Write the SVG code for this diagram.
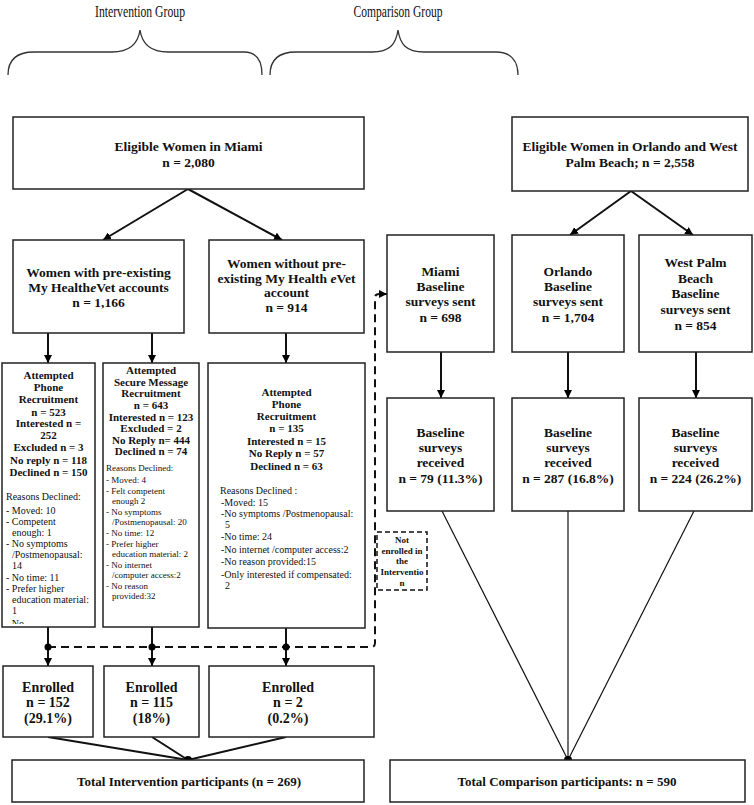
<svg xmlns="http://www.w3.org/2000/svg" width="754" height="805" viewBox="0 0 754 805">
<style>
.box{fill:#fff;stroke:#222;stroke-width:1.5}
.t{font-family:"Liberation Serif","Times New Roman",serif;font-weight:bold;text-anchor:middle;fill:#111}
.f13{font-size:13.5px}
.f11{font-size:11px}
.r{font-family:"Liberation Serif","Times New Roman",serif;font-size:10px;fill:#111}
.s{font-size:9px}
.h{font-family:"Liberation Serif","Times New Roman",serif;font-size:17px;fill:#111;text-anchor:middle}
.ln{stroke:#111;stroke-width:2;fill:none}
.thin{stroke:#111;stroke-width:1.2;fill:none}
.dash{stroke:#111;stroke-width:2;fill:none;stroke-dasharray:8 5}
.brace{stroke:#333;stroke-width:1.3;fill:none}
.dot{fill:#000}
</style>
<defs>
<marker id="ah" viewBox="0 0 10 10" refX="10" refY="5" markerWidth="8" markerHeight="8" markerUnits="userSpaceOnUse" orient="auto"><path d="M0,0 L10,5 L0,10 z" fill="#000"/></marker>
<clipPath id="c1"><rect x="2" y="363" width="93" height="261"/></clipPath>
<clipPath id="c2"><rect x="103" y="363" width="95" height="264"/></clipPath>
</defs>

<g id="titles">
<text class="h" x="140" y="17" textLength="90" lengthAdjust="spacingAndGlyphs">Intervention Group</text>
<text class="h" x="398" y="17" textLength="89" lengthAdjust="spacingAndGlyphs">Comparison Group</text>
<path class="brace" d="M8,75 C8,60 16,52 34,52 L112,52 C130,52 138,44 140,30 C142,44 150,52 168,52 L244,52 C256,52 262,60 262,75"/>
<path class="brace" d="M270,75 C270,60 278,52 296,52 L372,52 C390,52 396,44 398,30 C400,44 406,52 424,52 L496,52 C510,52 518,60 518,75"/>
</g>

<g id="connectors">
<line class="ln" x1="188" y1="189" x2="103" y2="240" marker-end="url(#ah)"/>
<line class="ln" x1="188" y1="189" x2="282" y2="240" marker-end="url(#ah)"/>
<line class="ln" x1="48" y1="333" x2="48" y2="363" marker-end="url(#ah)"/>
<line class="ln" x1="152" y1="333" x2="152" y2="363" marker-end="url(#ah)"/>
<line class="ln" x1="286" y1="333" x2="286" y2="363" marker-end="url(#ah)"/>
<line class="ln" x1="48" y1="627" x2="48" y2="666" marker-end="url(#ah)"/>
<line class="ln" x1="152" y1="627" x2="152" y2="666" marker-end="url(#ah)"/>
<line class="ln" x1="286" y1="628" x2="286" y2="666" marker-end="url(#ah)"/>
<path class="dash" d="M48,647 H371 Q375,647 375,643 V298 Q375,294 379,294 H383"/>
<line class="ln" x1="380" y1="294" x2="387" y2="294" marker-end="url(#ah)"/>
<circle class="dot" cx="48" cy="647" r="3.5"/>
<circle class="dot" cx="152" cy="647" r="3.5"/>
<circle class="dot" cx="286" cy="647" r="3.5"/>
<line class="ln" x1="48" y1="737" x2="188" y2="760"/>
<line class="ln" x1="152" y1="737" x2="188" y2="760"/>
<line class="ln" x1="286" y1="737" x2="188" y2="760"/>
<circle class="dot" cx="188" cy="760" r="4"/>
<line class="ln" x1="631" y1="191" x2="570" y2="235" marker-end="url(#ah)"/>
<line class="ln" x1="631" y1="191" x2="693" y2="235" marker-end="url(#ah)"/>
<line class="ln" x1="441" y1="352" x2="441" y2="398" marker-end="url(#ah)"/>
<line class="ln" x1="568" y1="352" x2="568" y2="398" marker-end="url(#ah)"/>
<line class="ln" x1="696" y1="352" x2="696" y2="398" marker-end="url(#ah)"/>
<line class="thin" x1="442" y1="511" x2="568" y2="760"/>
<line class="thin" x1="568" y1="511" x2="568" y2="760"/>
<line class="thin" x1="694" y1="511" x2="568" y2="760"/>
<circle class="dot" cx="568" cy="760" r="4"/>
</g>

<g id="eligible-miami">
<rect class="box" x="13" y="117" width="351" height="72"/>
<text class="t f13" x="188.5" y="151">Eligible Women in Miami</text>
<text class="t f13" x="188.5" y="167">n = 2,080</text>
</g>

<g id="with-accounts">
<rect class="box" x="13" y="240" width="171" height="93"/>
<text class="t f13" x="98.5" y="277">Women with pre-existing</text>
<text class="t f13" x="98.5" y="292">My Health<tspan font-style="italic">e</tspan>Vet accounts</text>
<text class="t f13" x="98.5" y="307">n = 1,166</text>
</g>

<g id="without-accounts">
<rect class="box" x="209" y="240" width="155" height="93"/>
<text class="t f13" x="286.5" y="268">Women without pre-</text>
<text class="t f13" x="286.5" y="283">existing My Health <tspan font-style="italic">e</tspan>Vet</text>
<text class="t f13" x="286.5" y="297">account</text>
<text class="t f13" x="286.5" y="312">n = 914</text>
</g>

<g id="phone-recruitment">
<rect class="box" x="2" y="363" width="93" height="264"/>
<text class="t f11" x="48.5" y="379">Attempted</text>
<text class="t f11" x="48.5" y="391">Phone</text>
<text class="t f11" x="48.5" y="403">Recruitment</text>
<text class="t f11" x="48.5" y="416">n = 523</text>
<text class="t f11" x="48.5" y="427">Interested n =</text>
<text class="t f11" x="48.5" y="439">252</text>
<text class="t f11" x="48.5" y="451">Excluded n = 3</text>
<text class="t f11" x="48.5" y="464">No reply n = 118</text>
<text class="t f11" x="48.5" y="476">Declined n = 150</text>
<g clip-path="url(#c1)">
<text class="r" x="6" y="500">Reasons Declined:</text>
<text class="r" x="6" y="514">- Moved: 10</text>
<text class="r" x="6" y="525">- Competent</text>
<text class="r" x="12" y="536">enough: 1</text>
<text class="r" x="6" y="547">- No symptoms</text>
<text class="r" x="12" y="558">/Postmenopausal:</text>
<text class="r" x="12" y="569">14</text>
<text class="r" x="6" y="581">- No time: 11</text>
<text class="r" x="6" y="592">- Prefer higher</text>
<text class="r" x="12" y="603">education material:</text>
<text class="r" x="12" y="614">1</text>
<text class="r" x="6" y="627">- No</text>
</g>
</g>

<g id="secure-message">
<rect class="box" x="103" y="363" width="96" height="264"/>
<text class="t f11" x="151" y="374">Attempted</text>
<text class="t f11" x="151" y="386">Secure Message</text>
<text class="t f11" x="151" y="397">Recruitment</text>
<text class="t f11" x="151" y="409">n = 643</text>
<text class="t f11" x="151" y="421">Interested n = 123</text>
<text class="t f11" x="151" y="432">Excluded = 2</text>
<text class="t f11" x="151" y="444">No Reply n= 444</text>
<text class="t f11" x="151" y="455">Declined n = 74</text>
<g clip-path="url(#c2)">
<text class="r s" x="106" y="471">Reasons Declined:</text>
<text class="r s" x="106" y="483">- Moved: 4</text>
<text class="r s" x="106" y="494">- Felt competent</text>
<text class="r s" x="112" y="504">enough 2</text>
<text class="r s" x="106" y="515">- No symptoms</text>
<text class="r s" x="112" y="525">/Postmenopausal: 20</text>
<text class="r s" x="106" y="536">- No time: 12</text>
<text class="r s" x="106" y="547">- Prefer higher</text>
<text class="r s" x="112" y="557">education material: 2</text>
<text class="r s" x="106" y="568">- No internet</text>
<text class="r s" x="112" y="578">/computer access:2</text>
<text class="r s" x="106" y="589">- No reason</text>
<text class="r s" x="112" y="599">provided:32</text>
</g>
</g>

<g id="phone-recruitment-2">
<rect class="box" x="208" y="363" width="157" height="265"/>
<text class="t f11" x="286.5" y="396">Attempted</text>
<text class="t f11" x="286.5" y="408">Phone</text>
<text class="t f11" x="286.5" y="420">Recruitment</text>
<text class="t f11" x="286.5" y="432">n = 135</text>
<text class="t f11" x="286.5" y="445">Interested n = 15</text>
<text class="t f11" x="286.5" y="457">No Reply n = 57</text>
<text class="t f11" x="286.5" y="470">Declined n = 63</text>
<text class="r" x="220" y="494">Reasons Declined :</text>
<text class="r" x="221" y="506">-Moved: 15</text>
<text class="r" x="221" y="517">-No symptoms /Postmenopausal:</text>
<text class="r" x="225" y="528">5</text>
<text class="r" x="221" y="540">-No time: 24</text>
<text class="r" x="221" y="553">-No internet /computer access:2</text>
<text class="r" x="221" y="565">-No reason provided:15</text>
<text class="r" x="221" y="578">-Only interested if compensated:</text>
<text class="r" x="225" y="589">2</text>
</g>

<g id="not-enrolled">
<rect x="377" y="532" width="50" height="58" fill="#fff" stroke="#111" stroke-width="1.5" stroke-dasharray="5 3"/>
<text class="t" font-size="9" x="402" y="543">Not</text>
<text class="t" font-size="9" x="402" y="554">enrolled in</text>
<text class="t" font-size="9" x="402" y="564">the</text>
<text class="t" font-size="9" x="402" y="575">Interventio</text>
<text class="t" font-size="9" x="402" y="586">n</text>
</g>

<g id="enrolled-1">
<rect class="box" x="3" y="666" width="90" height="71"/>
<text class="t" font-size="14" x="48" y="692">Enrolled</text>
<text class="t" font-size="14" x="48" y="707">n = 152</text>
<text class="t" font-size="14" x="48" y="723">(29.1%)</text>
</g>
<g id="enrolled-2">
<rect class="box" x="104" y="666" width="95" height="71"/>
<text class="t" font-size="14" x="151.5" y="692">Enrolled</text>
<text class="t" font-size="14" x="151.5" y="707">n = 115</text>
<text class="t" font-size="14" x="151.5" y="723">(18%)</text>
</g>
<g id="enrolled-3">
<rect class="box" x="209" y="666" width="165" height="71"/>
<text class="t" font-size="14" x="288" y="692">Enrolled</text>
<text class="t" font-size="14" x="288" y="707">n = 2</text>
<text class="t" font-size="14" x="288" y="723">(0.2%)</text>
</g>

<g id="total-intervention">
<rect class="box" x="12" y="760" width="352" height="42"/>
<text class="t" font-size="13" x="189" y="786">Total Intervention participants (n = 269)</text>
</g>

<g id="eligible-orlando-wpb">
<rect class="box" x="512" y="117" width="236" height="74"/>
<text class="t f13" x="630" y="151">Eligible Women in Orlando and West</text>
<text class="t f13" x="630" y="167">Palm Beach; n = 2,558</text>
</g>

<g id="miami-sent">
<rect class="box" x="387" y="235" width="107" height="117"/>
<text class="t f13" x="440.5" y="276">Miami</text>
<text class="t f13" x="440.5" y="291">Baseline</text>
<text class="t f13" x="440.5" y="306">surveys sent</text>
<text class="t f13" x="440.5" y="322">n = 698</text>
</g>
<g id="orlando-sent">
<rect class="box" x="512" y="235" width="112" height="117"/>
<text class="t f13" x="568" y="276">Orlando</text>
<text class="t f13" x="568" y="291">Baseline</text>
<text class="t f13" x="568" y="306">surveys sent</text>
<text class="t f13" x="568" y="322">n = 1,704</text>
</g>
<g id="wpb-sent">
<rect class="box" x="639" y="235" width="113" height="117"/>
<text class="t f13" x="695.5" y="267">West Palm</text>
<text class="t f13" x="695.5" y="283">Beach</text>
<text class="t f13" x="695.5" y="298">Baseline</text>
<text class="t f13" x="695.5" y="314">surveys sent</text>
<text class="t f13" x="695.5" y="330">n = 854</text>
</g>

<g id="miami-received">
<rect class="box" x="387" y="398" width="107" height="113"/>
<text class="t f13" x="440.5" y="437">Baseline</text>
<text class="t f13" x="440.5" y="452">surveys</text>
<text class="t f13" x="440.5" y="467">received</text>
<text class="t f13" x="440.5" y="483">n = 79 (11.3%)</text>
</g>
<g id="orlando-received">
<rect class="box" x="512" y="398" width="112" height="113"/>
<text class="t f13" x="568" y="437">Baseline</text>
<text class="t f13" x="568" y="452">surveys</text>
<text class="t f13" x="568" y="467">received</text>
<text class="t f13" x="568" y="483">n = 287 (16.8%)</text>
</g>
<g id="wpb-received">
<rect class="box" x="639" y="398" width="113" height="113"/>
<text class="t f13" x="695.5" y="437">Baseline</text>
<text class="t f13" x="695.5" y="452">surveys</text>
<text class="t f13" x="695.5" y="467">received</text>
<text class="t f13" x="695.5" y="483">n = 224 (26.2%)</text>
</g>

<g id="total-comparison">
<rect class="box" x="390" y="760" width="355" height="42"/>
<text class="t" font-size="13" x="567" y="786">Total Comparison participants: n = 590</text>
</g>
</svg>
